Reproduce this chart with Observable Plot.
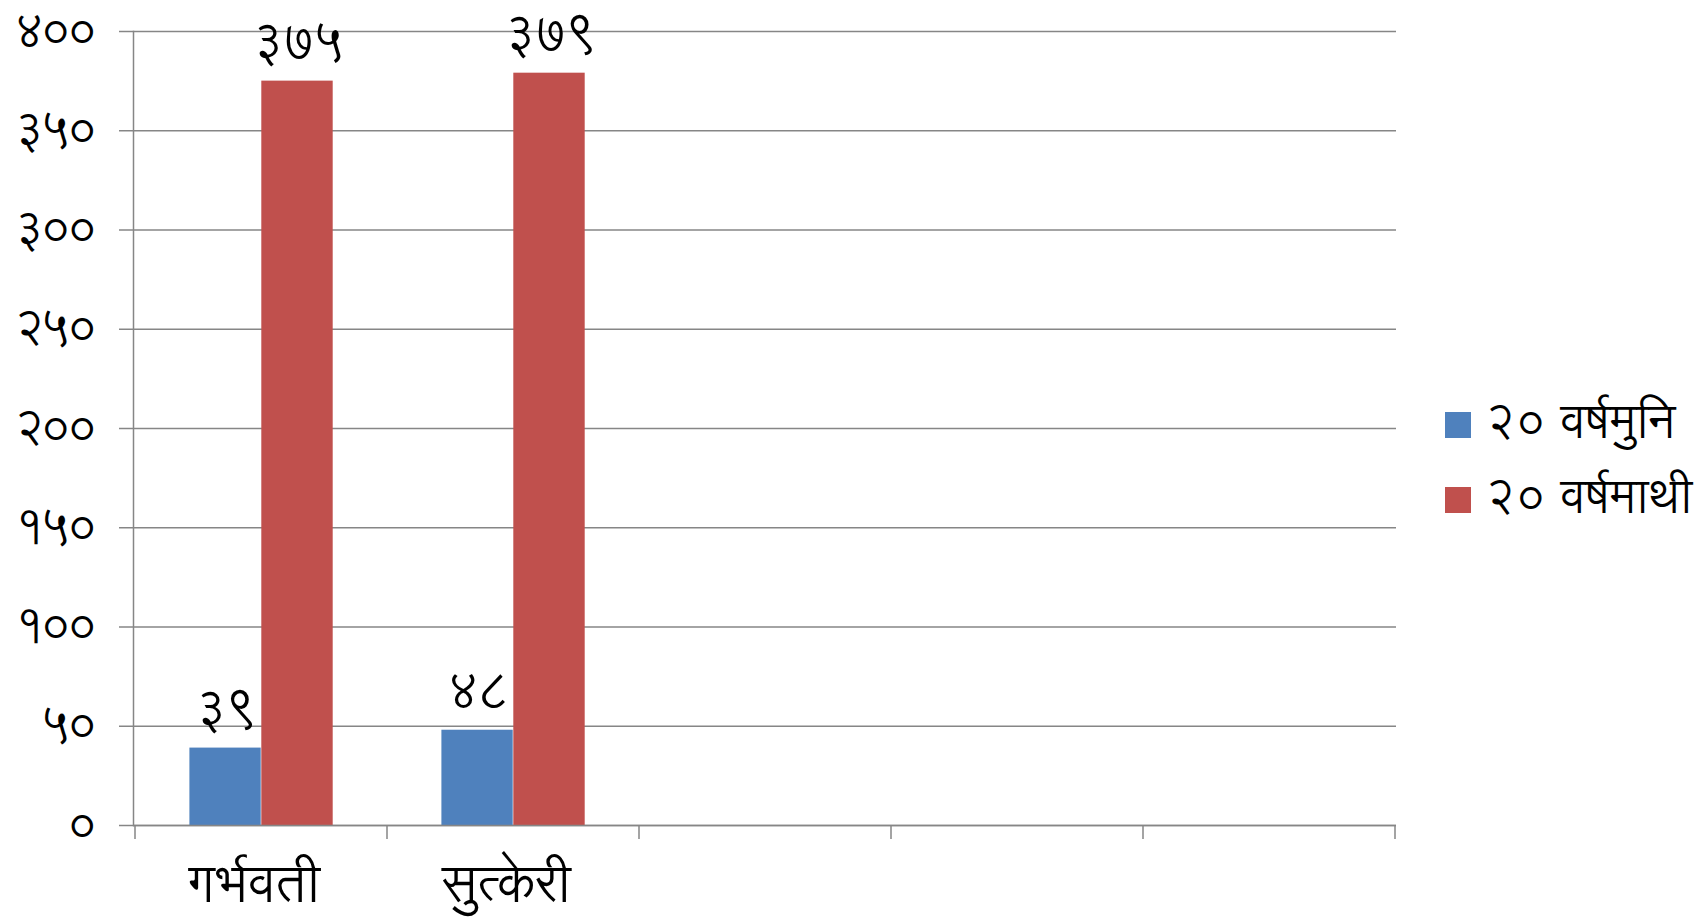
<!DOCTYPE html>
<html>
<head>
<meta charset="utf-8">
<script src="https://cdn.jsdelivr.net/npm/d3@7"></script>
<script src="https://cdn.jsdelivr.net/npm/@observablehq/plot@0.6"></script>
<style>
  body { margin: 0; background: #fff; }
  #wrap { position: relative; width: 1700px; height: 920px; font-family: "Lohit Devanagari", "Noto Sans Devanagari", sans-serif; }
  .leg { position: absolute; left: 1445px; display: flex; align-items: center; font-size: 47px; color: #000; white-space: nowrap; line-height: 1.2; }
  .leg .sw { width: 26px; height: 26px; margin-right: 14px; flex: none; }
  svg g[aria-label="y-axis tick label"] text { letter-spacing: -4px; }
  svg g.vlabel text { letter-spacing: -2px; }
</style>
</head>
<body>
<div id="wrap"></div>
<script>
// ---- data ----
const categories = ["गर्भवती", "सुत्केरी", "c3", "c4", "c5"];
const categoryLabels = ["गर्भवती", "सुत्केरी", "", "", ""];
const seriesNames = ["२० वर्षमुनि", "२० वर्षमाथी"];
const under20 = [39, 48];
const over20 = [375, 379];
const yTicks = [0, 50, 100, 150, 200, 250, 300, 350, 400];
const seriesColors = ["#4F81BD", "#C0504D"];

const devDigits = "०१२३४५६७८९";
const toDev = n => String(n).replace(/\d/g, d => devDigits[+d]);

const rows = [];
[under20, over20].forEach((vals, s) => vals.forEach((v, i) => rows.push({category: categories[i], series: seriesNames[s], value: v})));

const FONT = '"Lohit Devanagari", "Noto Sans Devanagari", sans-serif';
const GRID = "#868686";

const boundaryTicks = (index, scales) => {
  const g = d3.create("svg:g");
  const xs = categories.map(c => scales.x(c));
  const step = xs[1] - xs[0];
  const edges = [...xs, xs[xs.length - 1] + step];
  const y0 = scales.y(0);
  for (const e of edges) {
    g.append("line").attr("x1", e).attr("x2", e).attr("y1", y0).attr("y2", y0 + 14)
      .attr("stroke", GRID).attr("stroke-width", 1.5);
  }
  return g.node();
};

const plot = Plot.plot({
  width: 1700,
  height: 920,
  marginLeft: 133,
  marginRight: 304,
  marginTop: 31,
  marginBottom: 95,
  style: {fontFamily: FONT, background: "white", overflow: "visible", color: "#000"},
  x: {type: "band", domain: categories, padding: 0},
  y: {domain: [0, 400]},
  color: {domain: seriesNames, range: seriesColors},
  marks: [
    Plot.gridY(yTicks, {stroke: GRID, strokeOpacity: 1, strokeWidth: 1.5}),
    Plot.axisY(yTicks, {tickFormat: toDev, tickSize: 14, tickPadding: 26, fontSize: 47, stroke: GRID, strokeWidth: 1.5, strokeOpacity: 1, label: null}),
    Plot.frame({anchor: "left", stroke: GRID, strokeWidth: 1.5}),
    Plot.barY(rows.filter(d => d.series === seriesNames[0]), {x: "category", y: "value", fill: "series", insetLeft: 54.4, insetRight: 126.3}),
    Plot.barY(rows.filter(d => d.series === seriesNames[1]), {x: "category", y: "value", fill: "series", insetLeft: 126.3, insetRight: 54.3}),
    Plot.ruleY([0], {stroke: GRID, strokeWidth: 1.5}),
    boundaryTicks,
    Plot.axisX({tickSize: 0, tickPadding: 40, dx: -7, fontSize: 52, tickFormat: (d) => categoryLabels[categories.indexOf(d)], label: null}),
    Plot.text(rows.filter(d => d.series === seriesNames[0]), {x: "category", y: "value", text: d => toDev(d.value), dx: -36.15, dy: -38, fontSize: 50, fill: "#000", className: "vlabel"}),
    Plot.text(rows.filter(d => d.series === seriesNames[1]), {x: "category", y: "value", text: d => toDev(d.value), dx: 36.15, dy: -38, fontSize: 50, fill: "#000", className: "vlabel"})
  ]
});

const wrap = document.getElementById("wrap");
wrap.appendChild(plot);

// legend
const legendTops = [425, 500];
seriesNames.forEach((name, i) => {
  const item = document.createElement("div");
  item.className = "leg";
  const sw = document.createElement("div");
  sw.className = "sw";
  sw.style.background = seriesColors[i];
  const t = document.createElement("span");
  t.textContent = name;
  item.appendChild(sw);
  item.appendChild(t);
  wrap.appendChild(item);
  const h = item.getBoundingClientRect().height;
  item.style.top = (legendTops[i] - h / 2) + "px";
});
</script>
</body>
</html>
